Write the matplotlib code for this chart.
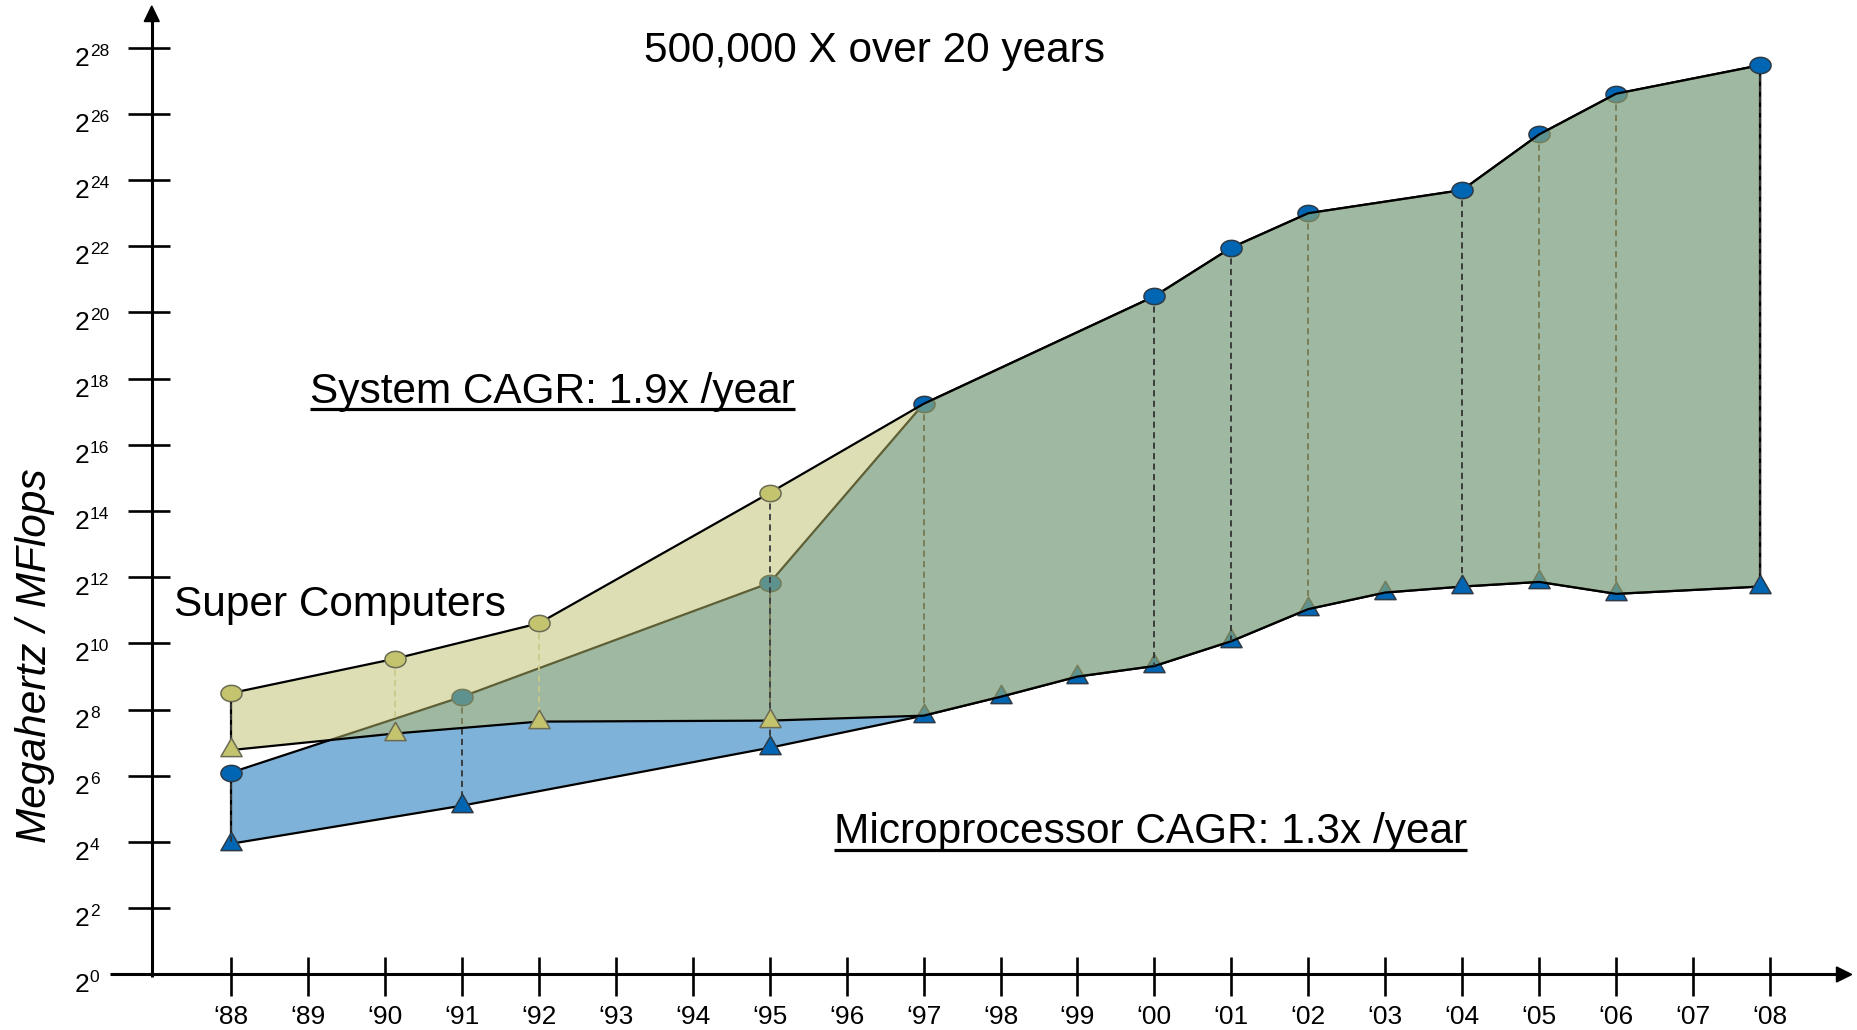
import numpy as np
import matplotlib
matplotlib.use("Agg")
import matplotlib.pyplot as plt
from matplotlib.path import Path
from matplotlib.lines import Line2D
from matplotlib.patches import Polygon
from matplotlib.transforms import IdentityTransform

plt.rcParams["font.family"] = ["Liberation Sans", "DejaVu Sans"]

# ---------------------------------------------------------------- data
tick_years = list(range(1988, 2009))
tick_labels = ["\u2018%02d" % (y % 100) for y in tick_years]
y_exponents = list(range(0, 29, 2))

# Super computers (system peak and base), log2 of MFlops
super_years = [1988, 1990.13, 1992, 1995]
super_peak_log2 = [8.50, 9.54, 10.61, 14.55]
super_base_log2 = [6.78, 7.28, 7.64, 7.67]

# Microprocessors, log2 of MHz / MFlops
micro_peak_years = [1988, 1991, 1995, 1997, 2000, 2001, 2002, 2004, 2005, 2006, 2007.87]
micro_peak_log2 = [6.10, 8.39, 11.83, 17.24, 20.49, 21.96, 23.00, 23.70, 25.38, 26.61, 27.47]
micro_base_years = [1988, 1991, 1995, 1997, 1998, 1999, 2000, 2001, 2002, 2003, 2004,
                    2005, 2006, 2007.87]
micro_base_log2 = [3.95, 5.10, 6.85, 7.82, 8.39, 9.00, 9.32, 10.07, 11.04, 11.54, 11.72,
                   11.86, 11.50, 11.72]

title = "500,000 X over 20 years"
system_note = "System CAGR: 1.9x /year"
micro_note = "Microprocessor CAGR: 1.3x /year"
super_note = "Super Computers"
y_title = "Megahertz / MFlops"

# ---------------------------------------------------------------- styles
BLUE = "#0066B3"
BLUE_EDGE = "#2E3A46"
OLIVE_FILL = "#BDBF6B"
OLIVE_MARK = "#C4C46E"
OLIVE_EDGE = "#6B6B55"
front_years = [1988, 2000, 2001, 2004, 2007.87]
super_dash_colors = ["#3A3A3A", "#C9C98A", "#C9C98A", "#3A3A3A"]

W, H, DPI = 1858, 1030, 100
fig = plt.figure(figsize=(W / DPI, H / DPI), dpi=DPI)
ax = fig.add_axes([0, 0, 1, 1])
ax.set_yscale("log", base=2)
ax.set_xlim(1984.998, 2009.143)
ax.set_ylim(2 ** -1.677, 2 ** 29.441)
ax.axis("off")

# ellipse and triangle marker shapes
th = np.linspace(0, 2 * np.pi, 73)
ellipse = Path(np.column_stack([np.cos(th), 0.77 * np.sin(th)]), closed=True)
tri = Path([(0, 1.1547), (-1, -0.57735), (1, -0.57735), (0, 1.1547)], closed=True)
CIRC_MS, TRI_MS = 15.2, 17.6

def v(a):
    return 2.0 ** np.asarray(a, dtype=float)

dash = (0, (3.4, 2.4))

# ---- microprocessor band (drawn first, partly seen through the system band)
mx = micro_peak_years + micro_base_years[::-1]
my = list(micro_peak_log2) + list(micro_base_log2[::-1])
ax.add_patch(Polygon(np.column_stack([mx, v(my)]), closed=True, facecolor=BLUE,
                     alpha=0.5, edgecolor="none", zorder=1))
ax.add_patch(Polygon(np.column_stack([mx, v(my)]), closed=True, facecolor="none",
                     edgecolor="black", lw=1.6, zorder=1.1))

base_lookup = dict(zip(micro_base_years, micro_base_log2))
for yr, pk in zip(micro_peak_years, micro_peak_log2):
    front = yr in front_years
    ax.plot([yr, yr], v([pk, base_lookup[yr]]), color="#333333", lw=1.3, ls=dash,
            zorder=5 if front else 2)
    ax.plot([yr], v([pk]), ls="none", marker=ellipse, ms=CIRC_MS, mfc=BLUE,
            mec=BLUE_EDGE, mew=1.1, zorder=6 if front else 3)
for yr, bs in zip(micro_base_years, micro_base_log2):
    front = yr in front_years[-2:]
    ax.plot([yr], v([bs]), ls="none", marker=tri, ms=TRI_MS, mfc=BLUE,
            mec=BLUE_EDGE, mew=1.1, zorder=6 if front else 3)

# ---- system band: super computers up to '95, then the microprocessor envelope
k97 = micro_peak_years.index(1997)
j97 = micro_base_years.index(1997)
sys_up_x = super_years + micro_peak_years[k97:]
sys_up_y = super_peak_log2 + micro_peak_log2[k97:]
sys_lo_x = super_years + micro_base_years[j97:]
sys_lo_y = super_base_log2 + micro_base_log2[j97:]
sx = sys_up_x + sys_lo_x[::-1]
sy = sys_up_y + sys_lo_y[::-1]
ax.add_patch(Polygon(np.column_stack([sx, v(sy)]), closed=True, facecolor=OLIVE_FILL,
                     alpha=0.5, edgecolor="none", zorder=4))
ax.add_patch(Polygon(np.column_stack([sx, v(sy)]), closed=True, facecolor="none",
                     edgecolor="black", lw=1.6, zorder=4.1))

for yr, pk, bs, dc in zip(super_years, super_peak_log2, super_base_log2, super_dash_colors):
    ax.plot([yr, yr], v([pk, bs]), color=dc, lw=1.3, ls=dash, zorder=5)
ax.plot(super_years, v(super_peak_log2), ls="none", marker=ellipse, ms=CIRC_MS,
        mfc=OLIVE_MARK, mec=OLIVE_EDGE, mew=1.1, zorder=6)
ax.plot(super_years, v(super_base_log2), ls="none", marker=tri, ms=TRI_MS,
        mfc=OLIVE_MARK, mec=OLIVE_EDGE, mew=1.1, zorder=6)

# ---------------------------------------------------------------- axes
ident = IdentityTransform()
AXIS_YEAR = 1986.97
ox, oy = ax.transData.transform((AXIS_YEAR, 1.0))

def seg(x0, y0, x1, y1, lw=2.2):
    fig.add_artist(Line2D([x0, x1], [y0, y1], transform=ident, color="black",
                          lw=lw, solid_capstyle="butt", zorder=10))

seg(ox, oy - 2.5, ox, H - 20)
fig.add_artist(Polygon([(ox - 7.5, H - 21.5), (ox + 7.5, H - 21.5), (ox, H - 6)],
                       closed=True, transform=ident, color="black", zorder=10))
seg(110, oy, 1838, oy)
fig.add_artist(Polygon([(1836.5, oy - 7.5), (1836.5, oy + 7.5), (1851.7, oy)],
                       closed=True, transform=ident, color="black", zorder=10))

for yr, lab in zip(tick_years, tick_labels):
    xt = ax.transData.transform((yr, 1.0))[0]
    seg(xt, oy - 21.5, xt, oy + 17.5, lw=1.9)
    fig.text(xt, oy - 50, lab, transform=ident, ha="center", va="baseline",
             fontsize=19)

for k in y_exponents:
    yt = ax.transData.transform((AXIS_YEAR, 2.0 ** k))[1]
    seg(ox - 23.5, yt, ox + 18.3, yt, lw=1.9)
    fig.text(75, yt - 18, "2", transform=ident, ha="left", va="baseline",
             fontsize=19)
    fig.text(89.8, yt - 8, str(k), transform=ident, ha="left", va="baseline",
             fontsize=12.5)

# ---------------------------------------------------------------- text
fig.text(874, H - 61.7, title, transform=ident, ha="center", va="baseline",
         fontsize=30.5)
fig.text(35, H - 656, y_title, transform=ident, ha="center", va="center",
         rotation=90, style="italic", fontsize=30.5)
fig.text(174, H - 616, super_note, transform=ident, ha="left", va="baseline",
         fontsize=30.5)

underlined = []
underlined.append((fig.text(310, H - 402.5, system_note, transform=ident, ha="left",
                            va="baseline", fontsize=30.5), H - 402.5))
underlined.append((fig.text(834, H - 843.5, micro_note, transform=ident, ha="left",
                            va="baseline", fontsize=30.5), H - 843.5))

fig.canvas.draw()
renderer = fig.canvas.get_renderer()
for t, base in underlined:
    bb = t.get_window_extent(renderer)
    seg(bb.x0, base - 6.5, bb.x1, base - 6.5, lw=2.3)

fig.savefig("out.png", dpi=DPI)
